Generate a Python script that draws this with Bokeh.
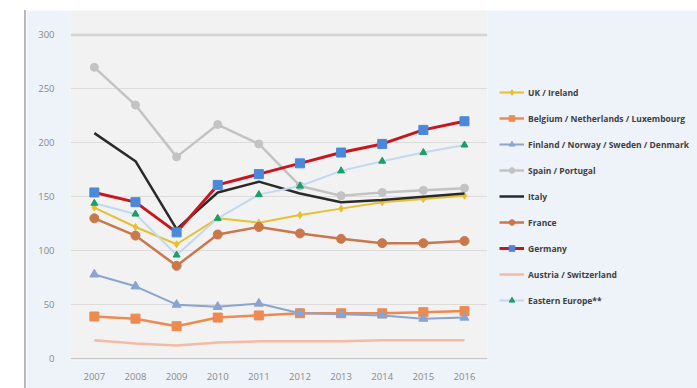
from bokeh.plotting import figure
from bokeh.models import FixedTicker, Span, Legend, LegendItem, Range1d
from bokeh.embed import file_html
from bokeh.resources import INLINE

years = [2007, 2008, 2009, 2010, 2011, 2012, 2013, 2014, 2015, 2016]
uk_ireland = [140, 122, 106, 130, 126, 133, 139, 145, 148, 151]
benelux = [39, 37, 30, 38, 40, 42, 42, 42, 43, 44]
nordics = [78, 67, 50, 48, 51, 42, 41, 40, 37, 38]
spain_portugal = [270, 235, 187, 217, 199, 160, 151, 154, 156, 158]
italy = [209, 183, 120, 154, 164, 153, 145, 147, 150, 153]
france = [130, 114, 86, 115, 122, 116, 111, 107, 107, 109]
germany = [154, 145, 117, 161, 171, 181, 191, 199, 212, 220]
austria_switzerland = [17, 14, 12, 15, 16, 16, 16, 17, 17, 17]
eastern_europe = [144, 134, 96, 130, 152, 160, 174, 183, 191, 198]
y_ticks = [0, 50, 100, 150, 200, 250, 300]
names = ["UK / Ireland", "Belgium / Netherlands / Luxembourg",
         "Finland / Norway / Sweden / Denmark", "Spain / Portugal", "Italy",
         "France", "Germany", "Austria / Switzerland", "Eastern Europe**"]

p = figure(frame_width=417, frame_height=350, output_backend="svg", toolbar_location=None,
           x_range=Range1d(2006.42, 2016.56), y_range=Range1d(-1.8, 322.7),
           min_border_left=44, min_border_right=212, min_border_top=0, min_border_bottom=28,
           background_fill_color="#f2f2f2", border_fill_color="#eef2f9",
           outline_line_color=None)
p.margin = (10, 0, 0, 24)
p.styles = {"border-left": "2px solid #b8b8b8"}

p.xaxis.ticker = FixedTicker(ticks=years)
p.yaxis.ticker = FixedTicker(ticks=y_ticks)
for ax in (p.xaxis, p.yaxis):
    ax.axis_line_color = None
    ax.major_tick_line_color = None
    ax.minor_tick_line_color = None
    ax.major_label_text_color = "#8a8a8a"
    ax.major_label_text_font = "Open Sans"
    ax.major_label_text_font_size = "9.5px"
p.yaxis.major_label_standoff = 10
p.xaxis.major_label_standoff = 6
p.xgrid.grid_line_color = None
p.ygrid.grid_line_color = "#dcdcdc"
p.ygrid.grid_line_width = 1

p.add_layout(Span(location=300, dimension="width", line_color="#d4d4d4", line_width=2.5))
p.add_layout(Span(location=0, dimension="width", line_color="#c4c4c4", line_width=1))

lw = 2.5
items = []
def add(name, y, line_color, width, marker=None, mcolor=None, msize=8):
    rs = [p.line(years, y, line_color=line_color, line_width=width)]
    if marker:
        rs.append(p.scatter(years, y, marker=marker, size=msize, color=mcolor))
    items.append(LegendItem(label=name, renderers=rs))

add(names[0], uk_ireland, "#e6c030", 2, "diamond", "#e6c030", 7)
add(names[1], benelux, "#ee8a50", lw, "square", "#ee8a50", 9)
add(names[2], nordics, "#8aa4cf", 2, "triangle", "#8aa4cf", 9)
add(names[3], spain_portugal, "#c3c3c3", lw, "circle", "#c3c3c3", 8)
add(names[4], italy, "#2a2a2a", lw)
add(names[5], france, "#c9774b", lw, "circle", "#c9774b", 9)
add(names[6], germany, "#c8161e", 3, "square", "#4a88da", 9)
add(names[7], austria_switzerland, "#f7b9a2", lw)
add(names[8], eastern_europe, "#c2d8ef", 2, "triangle", "#1a9e6a", 7)

leg = Legend(items=items, location=(12, 53))
leg.padding = 0
leg.margin = 0
leg.spacing = 12
leg.glyph_width = 25
leg.glyph_height = 14
leg.label_height = 14
leg.label_standoff = 4
leg.label_text_font = "Open Sans"
leg.label_text_font_style = "bold"
leg.label_text_font_size = "8.5px"
leg.label_text_color = "#404040"
leg.background_fill_alpha = 0
leg.border_line_color = None
p.add_layout(leg, "right")

open("out.html", "w").write(file_html(p, INLINE))
